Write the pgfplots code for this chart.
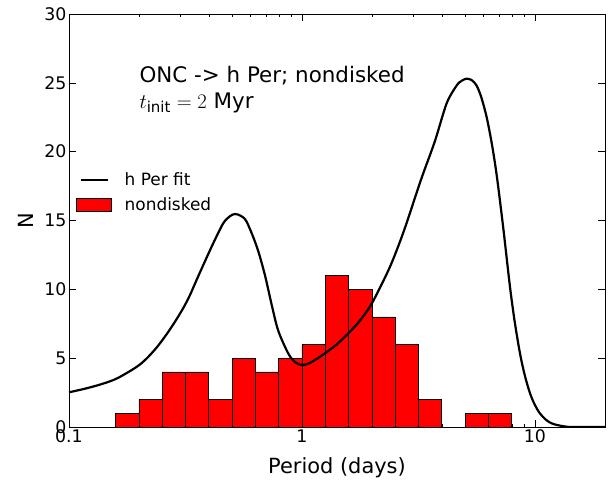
\documentclass[border=0pt]{standalone}
\usepackage{pgfplots}
\pgfplotsset{compat=1.18}
\usepackage{fontspec}
\setmainfont{DejaVu Sans}

\pgfplotsset{
  barleg/.style={legend image code/.code={\draw[##1] (0bp,-6.5bp) rectangle (35bp,6.5bp); \path (45bp,0bp);}},
  lineleg/.style={legend image code/.code={\draw[##1] (4bp,0bp) -- (31bp,0bp); \path (0bp,0bp) (45bp,0bp);}},
}

% histogram of the nondisked sample, log-spaced bins (left edges, last edge repeated)
\pgfplotstableread{
edge    n
0.1585  1
0.1995  2
0.2512  4
0.3162  4
0.3981  2
0.5012  5
0.6310  4
0.7943  5
1.0000  6
1.2589  11
1.5849  10
1.9953  8
2.5119  6
3.1623  2
3.9811  0
5.0119  1
6.3096  1
7.9433  1
}\histdata

% h Per fit
\pgfplotstableread{
P       N
0.100   2.52
0.117   2.78
0.134   3.05
0.150   3.32
0.163   3.58
0.186   4.14
0.202   4.55
0.219   5.10
0.238   5.78
0.258   6.56
0.281   7.48
0.309   8.62
0.331   9.60
0.353   10.68
0.385   12.10
0.416   13.34
0.459   14.79
0.490   15.30
0.515   15.47
0.545   15.35
0.579   14.91
0.640   13.10
0.692   11.10
0.741   8.90
0.791   7.00
0.873   5.35
0.933   4.72
1.000   4.50
1.070   4.62
1.138   4.87
1.256   5.35
1.400   5.95
1.556   6.68
1.750   7.60
1.959   8.74
2.160   10.1
2.388   11.64
2.600   13.2
2.812   14.8
3.250   18.0
3.720   20.75
4.178   23.5
4.613   24.8
4.850   25.15
5.093   25.3
5.350   25.2
5.623   24.8
5.900   23.9
6.209   22.5
6.530   20.6
6.855   18.3
7.311   14.5
7.816   10.2
8.200   7.6
8.630   5.35
9.050   3.75
9.528   2.45
10.00   1.6
10.50   1.0
11.20   0.5
11.99   0.22
13.68   0.02
15.85   0.0
20.00   0.0
}\fitdata

\begin{document}
\begin{tikzpicture}
\begin{axis}[
    scale only axis,
    width=536bp, height=413bp,
    xmode=log,
    xmin=0.1, xmax=20,
    ymin=0, ymax=30,
    xtick={0.1,1,10},
    xticklabels={\mbox{0.1},\mbox{1},\mbox{10}},
    ytick={0,5,10,15,20,25,30},
    tick align=inside,
    xtick pos=both, ytick pos=both,
    major tick length=7bp, minor tick length=3.5bp,
    tick style={black, line width=0.5bp},
    axis line style={line width=0.8bp},
    /pgf/number format/assume math mode=true,
    tick label style={font=\fontsize{17.4}{20}\selectfont},
    yticklabel style={xshift=1bp},
    xticklabel style={yshift=1bp},
    xlabel={Period (days)},
    ylabel={N},
    label style={font=\fontsize{21}{25}\selectfont},
    xlabel style={yshift=-8bp},
    ylabel style={yshift=4bp},
    legend style={at={(0.008,0.625)}, anchor=north west, draw=none, fill=none,
                  font=\fontsize{17}{20}\selectfont, row sep=6bp, inner sep=2bp},
    legend cell align=left,
    reverse legend,
]
\addplot[ybar interval, fill=red, draw=black, line width=0.6bp, barleg]
    table[x=edge, y=n] {\histdata};
\addlegendentry{nondisked}

\addplot[black, line width=2.2bp, smooth, lineleg] table[x=P, y=N] {\fitdata};
\addlegendentry{h Per fit}

\node[anchor=west, font=\fontsize{21.5}{25}\selectfont] at (rel axis cs:0.125,0.852) {ONC -> h Per; nondisked};
\node[anchor=west, font=\fontsize{21.5}{25}\selectfont] at (rel axis cs:0.125,0.785) {$t_{\mathrm{init}}=2$ Myr};
\end{axis}
\path (current axis.south west) ++(-69bp,-54bp) rectangle ([xshift=11bp,yshift=14bp]current axis.north east);
\end{tikzpicture}
\end{document}
